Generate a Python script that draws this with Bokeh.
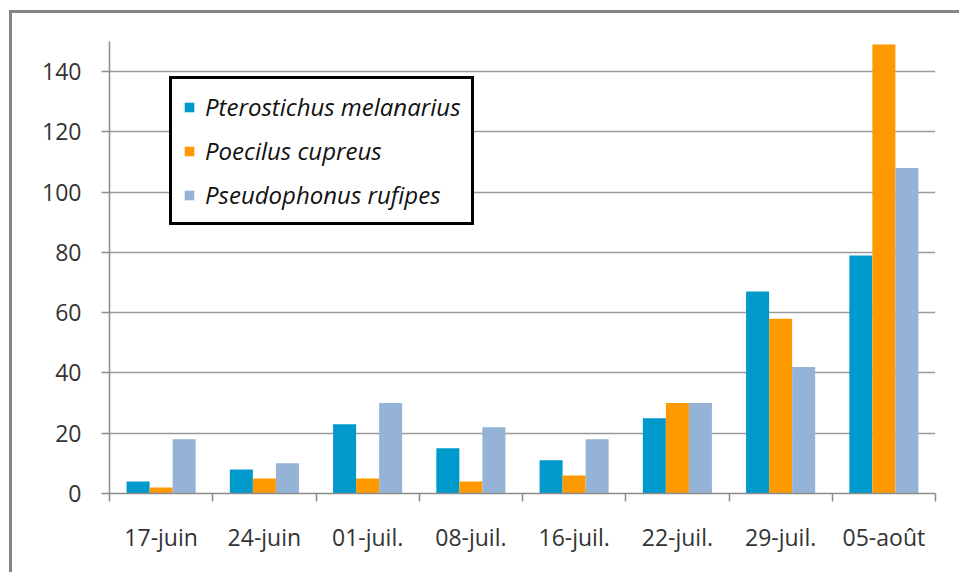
from bokeh.plotting import figure
from bokeh.models import (ColumnDataSource, Range1d, LinearAxis, FixedTicker, Legend, LegendItem)
from bokeh.transform import dodge
from bokeh.embed import file_html
from bokeh.resources import INLINE

dates = ["17-juin", "24-juin", "01-juil.", "08-juil.", "16-juil.", "22-juil.", "29-juil.", "05-août"]
melanarius = [4, 8, 23, 15, 11, 25, 67, 79]
cupreus = [2, 5, 5, 4, 6, 30, 58, 149]
rufipes = [18, 10, 30, 22, 18, 30, 42, 108]
species = ["Pterostichus melanarius", "Poecilus cupreus", "Pseudophonus rufipes"]
colors = ["#0099CC", "#FF9900", "#95B3D7"]
y_ticks = [0, 20, 40, 60, 80, 100, 120, 140]

n = len(dates)
centers = [i + 0.5 for i in range(n)]
src = ColumnDataSource(dict(x=centers, date=dates, a=melanarius, b=cupreus, c=rufipes))

FONT = "Open Sans"
p = figure(width=950, height=562, x_range=Range1d(0, n), y_range=Range1d(0, 150),
           output_backend="svg", toolbar_location=None, x_axis_location=None,
           y_axis_location=None, min_border_left=97, min_border_right=27,
           min_border_top=28, min_border_bottom=82)
p.styles = {"border-left": "3px solid #858585", "border-top": "3px solid #858585",
            "margin-left": "9px", "margin-top": "10px"}
p.outline_line_color = None
p.background_fill_color = "white"
p.border_fill_color = "white"

# y axis
yax = LinearAxis(ticker=FixedTicker(ticks=y_ticks))
yax.axis_line_color = "#8c8c8c"
yax.axis_line_width = 1.5
yax.major_tick_line_color = "#8c8c8c"
yax.major_tick_line_width = 1.5
yax.major_tick_out = 8
yax.major_tick_in = 0
yax.minor_tick_line_color = None
yax.major_label_text_font = FONT
yax.major_label_text_font_size = "23px"
yax.major_label_text_color = "#333333"
yax.major_label_standoff = 20
p.add_layout(yax, "left")

# x axis: labels at category centres, minor ticks at category boundaries
xax = LinearAxis(ticker=FixedTicker(ticks=centers, minor_ticks=list(range(n + 1))))
xax.major_label_overrides = {c: d for c, d in zip(centers, dates)}
xax.axis_line_color = "#8c8c8c"
xax.axis_line_width = 1.5
xax.major_tick_line_color = None
xax.major_tick_out = 0
xax.major_tick_in = 0
xax.minor_tick_line_color = "#8c8c8c"
xax.minor_tick_line_width = 1.5
xax.minor_tick_out = 8
xax.minor_tick_in = 0
xax.major_label_text_font = FONT
xax.major_label_text_font_size = "23px"
xax.major_label_text_color = "#333333"
xax.major_label_standoff = 19
p.add_layout(xax, "below")

p.xgrid.grid_line_color = None
p.ygrid.ticker = FixedTicker(ticks=y_ticks)
p.ygrid.grid_line_color = "#9a9a9a"
p.ygrid.grid_line_width = 1.5

w = 0.223
r1 = p.vbar(x=dodge("x", -w), top="a", width=w, source=src,
            fill_color=colors[0], line_color=None)
r2 = p.vbar(x=dodge("x", 0), top="b", width=w, source=src,
            fill_color=colors[1], line_color=None)
r3 = p.vbar(x=dodge("x", w), top="c", width=w, source=src,
            fill_color=colors[2], line_color=None)

legend = Legend(items=[LegendItem(label=species[0], renderers=[r1]),
                       LegendItem(label=species[1], renderers=[r2]),
                       LegendItem(label=species[2], renderers=[r3])],
                location=(60, 268))
legend.border_line_color = "black"
legend.border_line_alpha = 1
legend.border_line_width = 3.5
legend.background_fill_color = "white"
legend.background_fill_alpha = 1
legend.label_text_font = FONT
legend.label_text_font_style = "italic"
legend.label_text_font_size = "24px"
legend.label_text_color = "#111111"
legend.glyph_width = 12
legend.glyph_height = 12
legend.label_height = 20
legend.label_standoff = 10
legend.spacing = 11
legend.padding = 11
legend.margin = 0
p.add_layout(legend, "center")

open("out.html", "w").write(file_html(p, INLINE))
